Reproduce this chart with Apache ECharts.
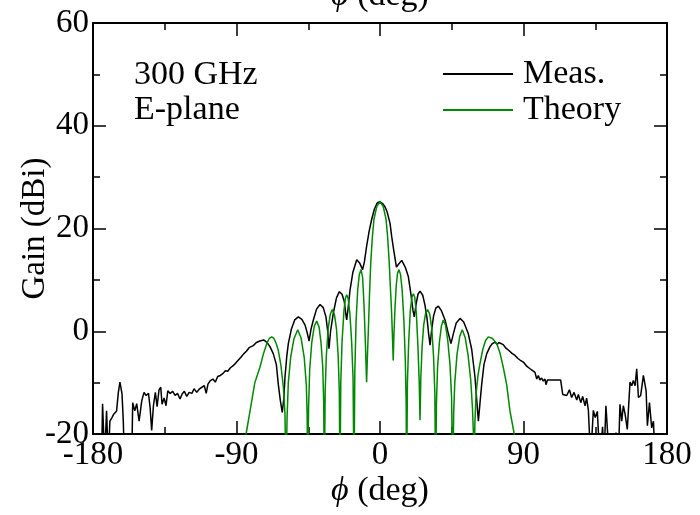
<!DOCTYPE html>
<html>
<head>
<meta charset="utf-8">
<script src="https://cdn.jsdelivr.net/npm/echarts@6/dist/echarts.min.js"></script>
<style>html,body{margin:0;padding:0;background:#fff}#c{width:700px;height:515px}</style>
</head>
<body>
<div id="c"></div>
<script>
// x tick labels / axis
const xTicks = [-180, -90, 0, 90, 180];
const yTicks = [-20, 0, 20, 40, 60];
const seriesNames = ['Meas.', 'Theory'];
const annotation = ['300 GHz', 'E-plane'];

// Measured gain (dBi) vs phi (deg); values below -20 are clipped by the axis
const measPhi = [-180,-174.6,-174,-173.3,-172.7,-171.5,-170.4,-169.4,-168.1,-166.9,-165.2,-164.1,-163.1,-161.8,-161,-160.3,-155.7,-155.1,-153.8,-152.6,-151.1,-149.4,-148,-146.7,-145.2,-144.2,-143.2,-142.1,-140.9,-139.8,-138.6,-137.5,-136.7,-135.4,-134.2,-133.1,-131.6,-130,-128.5,-127,-125.4,-124.1,-122.7,-121.2,-119.7,-118,-116.6,-114.9,-113.2,-111.7,-110.2,-109,-107.9,-106.4,-104.8,-103.3,-101.8,-100.1,-98.4,-97,-95.5,-93.8,-92.1,-90.5,-88.8,-87.1,-85.5,-83.8,-82.1,
-79.5,-77.5,-75.3,-73,-71.1,-69,-66.9,-65,-63.8,-62.5,-61.3,-60.3,-59.6,-58.5,-57.5,-55.5,-53.5,-51.2,-49,-47,-45.5,-44.5,-43.2,-41.8,-39.8,-37.6,-35.6,-33.9,-32.8,-32,-31,-29.3,-27.3,-25.5,-23.8,-22.4,-21.5,-20.9,-20,-18.8,-17,-14.6,-12.8,-10.9,-9.8,-8.4,-6.8,-5.2,-3.5,-1.7,0,
1.5,3,4.5,6.3,7.3,8.5,10.3,11.5,13.6,15.8,17.8,19.5,20.7,21.5,22.5,23.8,25.1,26.8,28.2,29.5,30.5,31.4,32.3,33.6,35,36.6,38.5,40.8,42.5,44.5,46,47.8,50.2,52.5,55.4,57.5,59.6,60.7,61.7,62.7,63.8,65.2,66.9,69,70.5,72.1,73.5,74.5,75.5,77.3,79,81,82.8,84.7,86.5,87.8,89.9,92,94.1,95.5,97.2,98.3,99.3,100.3,101.4,102.4,103.5,104.1,105,113.3,114.6,117.1,118.8,120.2,121.7,123.4,124.4,125.9,127.1,128.6,129.6,130.7,132.1,133.8,135,136.3,137.9,139.6,140.5,141.7,142.6,143.8,146.8,148,149.5,150.5,151.6,152.6,153.7,155.1,156.8,157.9,158.9,160,161,162.1,163.5,165.2,166.9,167.7,169,170.4,171.5,172.5,180];
const measGain = [-25,-25,-14.1,-14.2,-25,-15.5,-25,-17.5,-16.8,-16.1,-15.5,-11.9,-9.9,-12.2,-17.5,-25,-25,-13.9,-15.5,-14.1,-17.5,-13.5,-11.9,-12.5,-12.1,-14.8,-19.3,-14.5,-11.9,-14.7,-11.4,-10.9,-14.2,-13,-14.5,-11.6,-12.1,-11.7,-12.5,-12.1,-13.2,-12.2,-11.7,-12.7,-11.9,-12.1,-11.2,-11.9,-11.2,-10.9,-10.6,-12.1,-10.3,-9.6,-9.3,-9.9,-8.8,-8.6,-8.2,-7.7,-7.8,-7.1,-6.7,-6.2,-5.6,-5.0,-4.4,-3.9,-3.2,
-2.8,-2.2,-1.9,-1.7,-2.1,-3,-4.4,-6.5,-10.3,-13.5,-15.8,-13,-9,-5,-2.4,0.5,2.2,2.8,2.3,1.2,-0.5,-1.9,0.5,2.2,4.3,5.2,4.6,2.8,0,-3.4,0,3.5,6.5,7.7,7.2,5.8,3.5,2.2,4.5,8,11.5,13.9,13.3,12,13.5,16.5,19.5,21.8,23.8,25,25.2,
24.9,24.3,23.2,21,18.5,16,12.5,13,13.8,12.5,10.6,7,4,2.8,5,7.2,7.8,7,5.1,2.5,-0.5,-2.7,0,3,4.5,4.9,4,2.2,0,-2.4,-0.5,1.6,2.5,1.8,-0.5,-3.5,-9,-13.5,-17.5,-14,-10.3,-6.5,-4.4,-3,-2.4,-2.1,-2.6,-2.2,-2.5,-2.6,-3.3,-3.8,-4.3,-4.7,-5.3,-5.6,-6,-6.8,-7.3,-7.6,-8.0,-9.3,-8.6,-9.5,-9.1,-9.7,-9.3,-10.4,-9.5,-9.5,-12.3,-12.5,-11.4,-12.9,-11.9,-13.4,-12.3,-13.9,-12.7,-14.5,-13,-15.4,-25,-15.4,-16.8,-15.6,-25,-18.6,-25,-14.5,-14.8,-25,-25,-19.7,-25,-14.2,-17.5,-14.5,-16.1,-19.1,-9.9,-10.6,-9.6,-10.6,-7.3,-12.9,-12.5,-8.6,-11.6,-18.4,-13.9,-18.8,-17.5,-25,-25];

// Theoretical gain (dBi) vs phi (deg)
const theoryPhi = [-85,-84,-81.5,-78.5,-75.3,-73.2,-71,-69.5,-67.9,-66.5,-65.2,-63.8,-62.2,-60.6,-59.6,-59,
-58.3,-57.5,-56,-54,-51.6,-49.5,-47.5,-46.2,-45.7,-45.4,
-44.8,-44.1,-42.8,-41.2,-39.7,-38.2,-37,-35.9,-35.3,-34.9,
-34.4,-33.7,-32.5,-31.2,-29.9,-28.6,-27.3,-26.2,-25.5,-25.1,
-24.6,-23.8,-22.6,-21.7,-20.9,-20,-18.9,-17.8,-16.9,-16.3,
-15.8,-15,-14,-13,-11.9,-10.9,-10,-9.2,-8.7,-8.4,
-7.8,-7.3,-6.6,-5.8,-4.8,-3.8,-2,0,2,3.8,4.8,5.8,6.6,7.3,7.8,8.3,
8.7,9.4,10.2,11,11.9,12.9,13.9,15,15.9,16.4,16.7,
17.2,18,19,20,20.9,21.8,22.8,23.8,24.6,25.1,
25.6,26.4,27.4,28.6,29.9,31.2,32.5,33.6,34.4,34.9,
35.4,36.1,37.3,38.5,39.7,41.1,42.5,43.9,44.9,45.6,
46.2,46.9,48.3,50,51.6,53.4,55.3,56.9,58,58.6,59,
59.5,60.3,61.5,62.7,64.5,66.2,67.9,70.5,73.2,75.3,77.3,79.5,81.5,84.2,85];
const theoryGain = [-26,-20,-15.5,-10,-7,-4.5,-2.4,-1.4,-1.1,-1.4,-2.3,-3.7,-6.5,-10.9,-16,-30,
-17,-10,-5,-1.5,0.3,-1.3,-5.2,-10.5,-16,-30,
-15,-7.5,-2.2,1,2,0.8,-2.2,-7,-14,-30,
-12,-5,0.5,3.3,4.2,3.3,0.5,-5,-12,-30,
-10,-2,4,6.4,7.1,6.4,3.5,-2,-9,-30,
-8,2,8,11,12,10.5,5,-2,-7,-9.9,
-4,0.2,7,13.3,18.3,21.8,24.3,25.2,24.3,21.8,18.3,13.3,8,3.5,-1,-5.7,
-1,4.5,9,11.3,12,11,8,2,-6,-14,-30,
-10,-2,4,6.6,7.3,6.6,3.5,-3,-10,-17.3,
-9,-3,1.2,3.5,4.2,3.3,0.5,-5,-12,-30,
-14,-7,-2,1,2.2,1.2,-1.8,-6.5,-13,-30,
-16,-10,-4.5,-1,0.3,-1.2,-4.8,-9.5,-15,-20,-30,
-18,-12,-8.5,-6.3,-3.5,-1.8,-1.1,-1.4,-2.4,-4.3,-7,-10.5,-15.5,-20,-26];

const FONT = 'Liberation Serif';
const measData = measPhi.map((x, i) => [x, measGain[i]]);
const theoryData = theoryPhi.map((x, i) => [x, theoryGain[i]]);
const phiName = '{i|\u03D5} (deg)';
const nameRich = { i: { fontStyle: 'italic', fontFamily: FONT, fontSize: 34, color: '#000' } };

function xAx(pos, showLabel, nameGap) {
  return {
    type: 'value', position: pos, min: xTicks[0], max: xTicks[xTicks.length - 1], interval: 90,
    name: phiName, nameLocation: 'middle', nameGap: nameGap, nameMoveOverlap: false,
    nameTextStyle: { fontFamily: FONT, fontSize: 34, color: '#000', rich: nameRich },
    axisLine: { show: true, onZero: false, lineStyle: { color: '#000', width: 2 } },
    axisTick: { show: true, inside: true, length: 13, lineStyle: { color: '#000', width: 1.5 } },
    minorTick: { show: true, splitNumber: 2, length: 7, lineStyle: { color: '#000', width: 1.5 } },
    axisLabel: { show: showLabel, fontFamily: FONT, fontSize: 33, color: '#000', margin: 5, showMinLabel: true, showMaxLabel: true, hideOverlap: false },
    splitLine: { show: false }
  };
}
function yAx(pos, showLabel) {
  return {
    type: 'value', position: pos, min: yTicks[0], max: yTicks[yTicks.length - 1], interval: 20,
    name: showLabel ? 'Gain (dBi)' : '', nameLocation: 'middle', nameGap: 41, nameMoveOverlap: false,
    nameTextStyle: { fontFamily: FONT, fontSize: 33, color: '#000' },
    axisLine: { show: true, onZero: false, lineStyle: { color: '#000', width: 2 } },
    axisTick: { show: true, inside: true, length: 13, lineStyle: { color: '#000', width: 1.5 } },
    minorTick: { show: true, splitNumber: 2, length: 7, lineStyle: { color: '#000', width: 1.5 } },
    axisLabel: { show: showLabel, fontFamily: FONT, fontSize: 33, color: '#000', margin: 4, showMinLabel: true, showMaxLabel: true, hideOverlap: false },
    splitLine: { show: false }
  };
}

const chart = echarts.init(document.getElementById('c'), null, { renderer: 'canvas' });
chart.setOption({
  animation: false,
  backgroundColor: '#fff',
  grid: { left: 93, right: 33, top: 23, bottom: 81, containLabel: false, outerBoundsMode: 'none' },
  xAxis: [xAx('bottom', true, 40), xAx('top', false, 10)],
  yAxis: [yAx('left', true), yAx('right', false)],
  legend: {
    data: seriesNames, orient: 'vertical', left: 443, top: 57,
    itemWidth: 70, itemHeight: 2, itemGap: 2, icon: 'rect', padding: 0,
    textStyle: { fontFamily: FONT, fontSize: 34, color: '#000', padding: [0, 0, 0, 5] }
  },
  graphic: [{
    type: 'text', left: 134, top: 58,
    style: { text: annotation.join('\n'), font: '34px "Liberation Serif"', fill: '#000', lineHeight: 35 }
  }],
  series: [
    { name: seriesNames[0], type: 'line', data: measData, symbol: 'none', clip: true,
      lineStyle: { color: '#000', width: 1.5 }, itemStyle: { color: '#000' }, z: 2 },
    { name: seriesNames[1], type: 'line', data: theoryData, symbol: 'none', clip: true,
      lineStyle: { color: '#008800', width: 1.5 }, itemStyle: { color: '#008800' }, z: 3 }
  ]
});
</script>
</body>
</html>
